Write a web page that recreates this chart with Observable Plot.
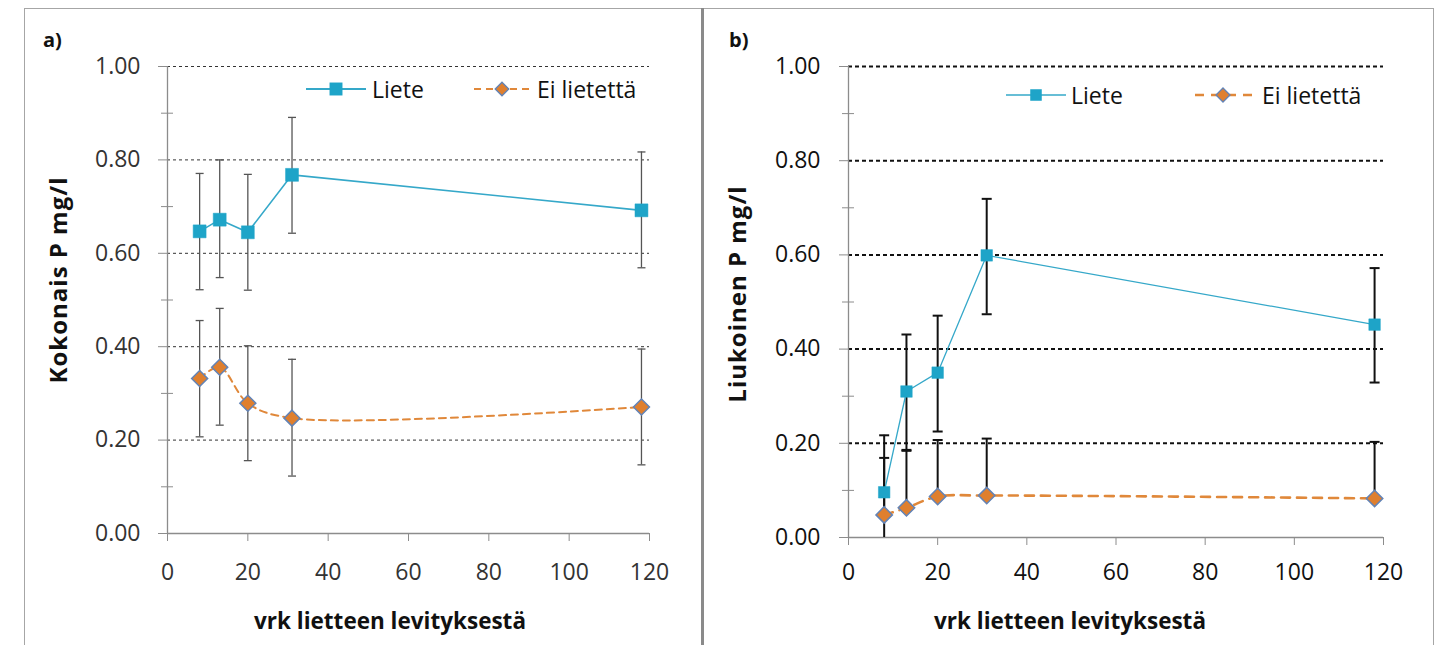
<!DOCTYPE html>
<html><head><meta charset="utf-8">
<script src="https://cdn.jsdelivr.net/npm/d3@7"></script>
<script src="https://cdn.jsdelivr.net/npm/@observablehq/plot@0.6"></script>
<style>
html,body{margin:0;padding:0;background:#fff;}
#root{position:relative;width:1452px;height:645px;overflow:hidden;font-family:"Open Sans",sans-serif;}
.abs{position:absolute;white-space:nowrap;}
.pan{position:absolute;top:0;}
.title{position:absolute;white-space:nowrap;font-weight:700;color:#111;transform:translate(-50%,-50%);}
</style></head><body>
<div id="root">
  <div class="abs" style="left:24px;top:8px;width:1408px;height:700px;border:1.5px solid #a6a6a6;"></div>
  <div class="abs" style="left:701px;top:8px;width:3px;height:640px;background:#8a8a8a;"></div>
  <div id="pa" class="pan" style="left:0px;"></div>
  <div id="pb" class="pan" style="left:701px;"></div>
</div>
<script>
// ---- data ----
const days = [8, 13, 20, 31, 118];
const xTicks = [0, 20, 40, 60, 80, 100, 120];
const yMajor = [0, 0.2, 0.4, 0.6, 0.8, 1.0];
const yMinor = [0.1, 0.3, 0.5, 0.7, 0.9];
const seriesNames = ["Liete", "Ei lietettä"];
const panelLabels = ["a)", "b)"];
const yTitles = ["Kokonais P mg/l", "Liukoinen P mg/l"];
const xTitle = "vrk lietteen levityksestä";

// a) Kokonais P
const aLiete   = [0.647, 0.672, 0.645, 0.768, 0.692];
const aLieteLo = [0.522, 0.548, 0.521, 0.643, 0.569];
const aLieteHi = [0.771, 0.800, 0.769, 0.891, 0.817];
const aEi      = [0.332, 0.356, 0.279, 0.247, 0.271];
const aEiLo    = [0.207, 0.232, 0.156, 0.123, 0.147];
const aEiHi    = [0.456, 0.482, 0.402, 0.373, 0.395];
// b) Liukoinen P
const bLiete   = [0.096, 0.310, 0.350, 0.599, 0.452];
const bLieteLo = [0.000, 0.186, 0.225, 0.474, 0.329];
const bLieteHi = [0.217, 0.431, 0.471, 0.719, 0.572];
const bEi      = [0.048, 0.063, 0.087, 0.089, 0.083];
const bEiLo    = [0.048, 0.063, 0.087, 0.089, 0.083];
const bEiHi    = [0.169, 0.184, 0.207, 0.210, 0.203];

// ---- helpers ----
const C_TEAL = "#1ea4c8", C_TEAL_LINE = "#35a8c9", C_OR = "#df7f2e", C_OR_LINE = "#e0883a", C_EDGE = "#6283b6";
const capSymbol = {draw(ctx, size){ const w = Math.sqrt(size/Math.PI); ctx.moveTo(-w,0); ctx.lineTo(w,0); }};
function rows(v, lo, hi){ return days.map((d,i)=>({day:d, v:v[i], lo:lo[i], hi:hi[i]})); }
function caps(rs){ const out=[]; rs.forEach(r=>{ if (r.hi>r.v) out.push({day:r.day, v:r.hi}); if (r.lo<r.v && r.lo>0) out.push({day:r.day, v:r.lo}); }); return out; }

function build(cfg){
  const L = rows(cfg.liete, cfg.lieteLo, cfg.lieteHi);
  const E = rows(cfg.ei, cfg.eiLo, cfg.eiHi);
  const s = cfg.st;
  return Plot.plot({
    width: cfg.width, height: 645,
    marginLeft: cfg.mL, marginRight: cfg.mR, marginTop: 66, marginBottom: cfg.mB,
    x: {domain:[0,120]}, y: {domain:[0,1]},
    style: {fontFamily:"Open Sans, sans-serif", fontSize:"23px", color:s.text, background:"transparent", overflow:"visible"},
    marks: [
      Plot.gridY(yMajor.filter(v=>v>0), {stroke:s.grid, strokeOpacity:1, strokeWidth:s.gridW, strokeDasharray:s.gridDash}),
      Plot.ruleY([0], {stroke:"#8c8c8c", strokeWidth:1.3}),
      Plot.ruleX([0], {stroke:"#8c8c8c", strokeWidth:1.3}),
      Plot.axisY(yMajor, {tickSize:9, tickPadding:s.yPad, tickFormat:d=>d.toFixed(2), stroke:"#8c8c8c", fill:s.text, label:null}),
      Plot.axisY(yMinor, {tickSize:12, dx:6, tickFormat:()=> "", stroke:"#8c8c8c", label:null}),
      Plot.axisX(xTicks, {tickSize:8, tickPadding:s.xPad, stroke:"#8c8c8c", fill:s.text, label:null}),
      Plot.ruleX(L, {x:"day", y1:"lo", y2:"hi", stroke:s.err, strokeWidth:s.errW}),
      Plot.ruleX(E, {x:"day", y1:"lo", y2:"hi", stroke:s.err, strokeWidth:s.errW}),
      Plot.dot(caps(L), {x:"day", y:"v", symbol:capSymbol, r:s.capR, stroke:s.err, strokeWidth:s.errW}),
      Plot.dot(caps(E), {x:"day", y:"v", symbol:capSymbol, r:s.capR, stroke:s.err, strokeWidth:s.errW}),
      Plot.line(E, {x:"day", y:"v", curve:"catmull-rom", stroke:C_OR_LINE, strokeWidth:s.orW, strokeDasharray:s.orDash}),
      Plot.line(L, {x:"day", y:"v", stroke:C_TEAL_LINE, strokeWidth:s.tealW}),
      Plot.dot(L, {x:"day", y:"v", symbol:"square", r:s.sqR, fill:C_TEAL, stroke:C_TEAL, strokeWidth:0.5}),
      Plot.dot(E, {x:"day", y:"v", symbol:"diamond2", r:s.diR, fill:C_OR, stroke:C_EDGE, strokeWidth:1.5})
    ]
  });
}

function legendSwatch(kind, st){
  const w = 60, h = 22, c = h/2;
  if (kind === 0) {
    const sq = d3.symbol(d3.symbolSquare, Math.pow(st.sqR,2)*Math.PI)();
    return `<svg width="${w}" height="${h}"><line x1="0" x2="${w}" y1="${c}" y2="${c}" stroke="${C_TEAL_LINE}" stroke-width="${st.tealW+0.4}"/><path transform="translate(${w/2},${c})" d="${sq}" fill="${C_TEAL}"/></svg>`;
  }
  const di = d3.symbol(d3.symbolDiamond2, Math.pow(st.diR*0.85,2)*Math.PI)();
  return `<svg width="${w}" height="${h}"><line x1="0" x2="${w}" y1="${c}" y2="${c}" stroke="${C_OR_LINE}" stroke-width="${st.orW}" stroke-dasharray="${st.orDash}" stroke-dashoffset="-2"/><path transform="translate(${w/2},${c})" d="${di}" fill="${C_OR}" stroke="${C_EDGE}" stroke-width="1.3"/></svg>`;
}

const stA = {text:"#333", grid:"#333", gridW:1, gridDash:"3,3", err:"#555", errW:1.3, capR:4, yPad:18, xPad:22,
  orW:2, orDash:"7,5", tealW:1.6, sqR:7.3, diR:7.2};
const stB = {text:"#111", grid:"#111", gridW:2, gridDash:"4,3", err:"#111", errW:2, capR:5, yPad:19, xPad:18,
  orW:2.6, orDash:"9,7", tealW:1.3, sqR:6.5, diR:7.4};

const panels = [
  {id:"pa", left:0, width:701, mL:167, mR:52, mB:112, liete:aLiete, lieteLo:aLieteLo, lieteHi:aLieteHi, ei:aEi, eiLo:aEiLo, eiHi:aEiHi, st:stA,
   tag:[43,26], yT:[57,280], xT:[390,620], legY:89, leg:[[306,372],[472,537]]},
  {id:"pb", left:701, width:751, mL:147, mR:69, mB:108, liete:bLiete, lieteLo:bLieteLo, lieteHi:bLieteHi, ei:bEi, eiLo:bEiLo, eiHi:bEiHi, st:stB,
   tag:[729,26], yT:[736,294], xT:[1070,620], legY:95, leg:[[1006,1071],[1193,1262]]}
];
const root = document.getElementById("root");
panels.forEach((p, k) => {
  document.getElementById(p.id).appendChild(build(p));
  const tag = document.createElement("div");
  tag.className = "abs"; tag.style.cssText = `left:${p.tag[0]}px;top:${p.tag[1]}px;font-weight:700;font-size:20px;color:#111;`;
  tag.textContent = panelLabels[k]; root.appendChild(tag);
  const yt = document.createElement("div");
  yt.className = "title"; yt.style.cssText += `left:${p.yT[0]}px;top:${p.yT[1]}px;font-size:24px;letter-spacing:1px;transform:translate(-50%,-50%) rotate(-90deg);`;
  yt.textContent = yTitles[k]; root.appendChild(yt);
  const xt = document.createElement("div");
  xt.className = "title"; xt.style.cssText += `left:${p.xT[0]}px;top:${p.xT[1]}px;font-size:22.5px;`;
  xt.textContent = xTitle; root.appendChild(xt);
  seriesNames.forEach((name, j) => {
    const sw = document.createElement("div");
    sw.className = "abs"; sw.style.cssText = `left:${p.leg[j][0]}px;top:${p.legY-11}px;`;
    sw.innerHTML = legendSwatch(j, p.st); root.appendChild(sw);
    const tx = document.createElement("div");
    tx.className = "abs"; tx.style.cssText = `left:${p.leg[j][1]}px;top:${p.legY}px;transform:translateY(-50%);font-size:23px;color:#111;line-height:1;`;
    tx.textContent = name; root.appendChild(tx);
  });
});
</script>
</body></html>
